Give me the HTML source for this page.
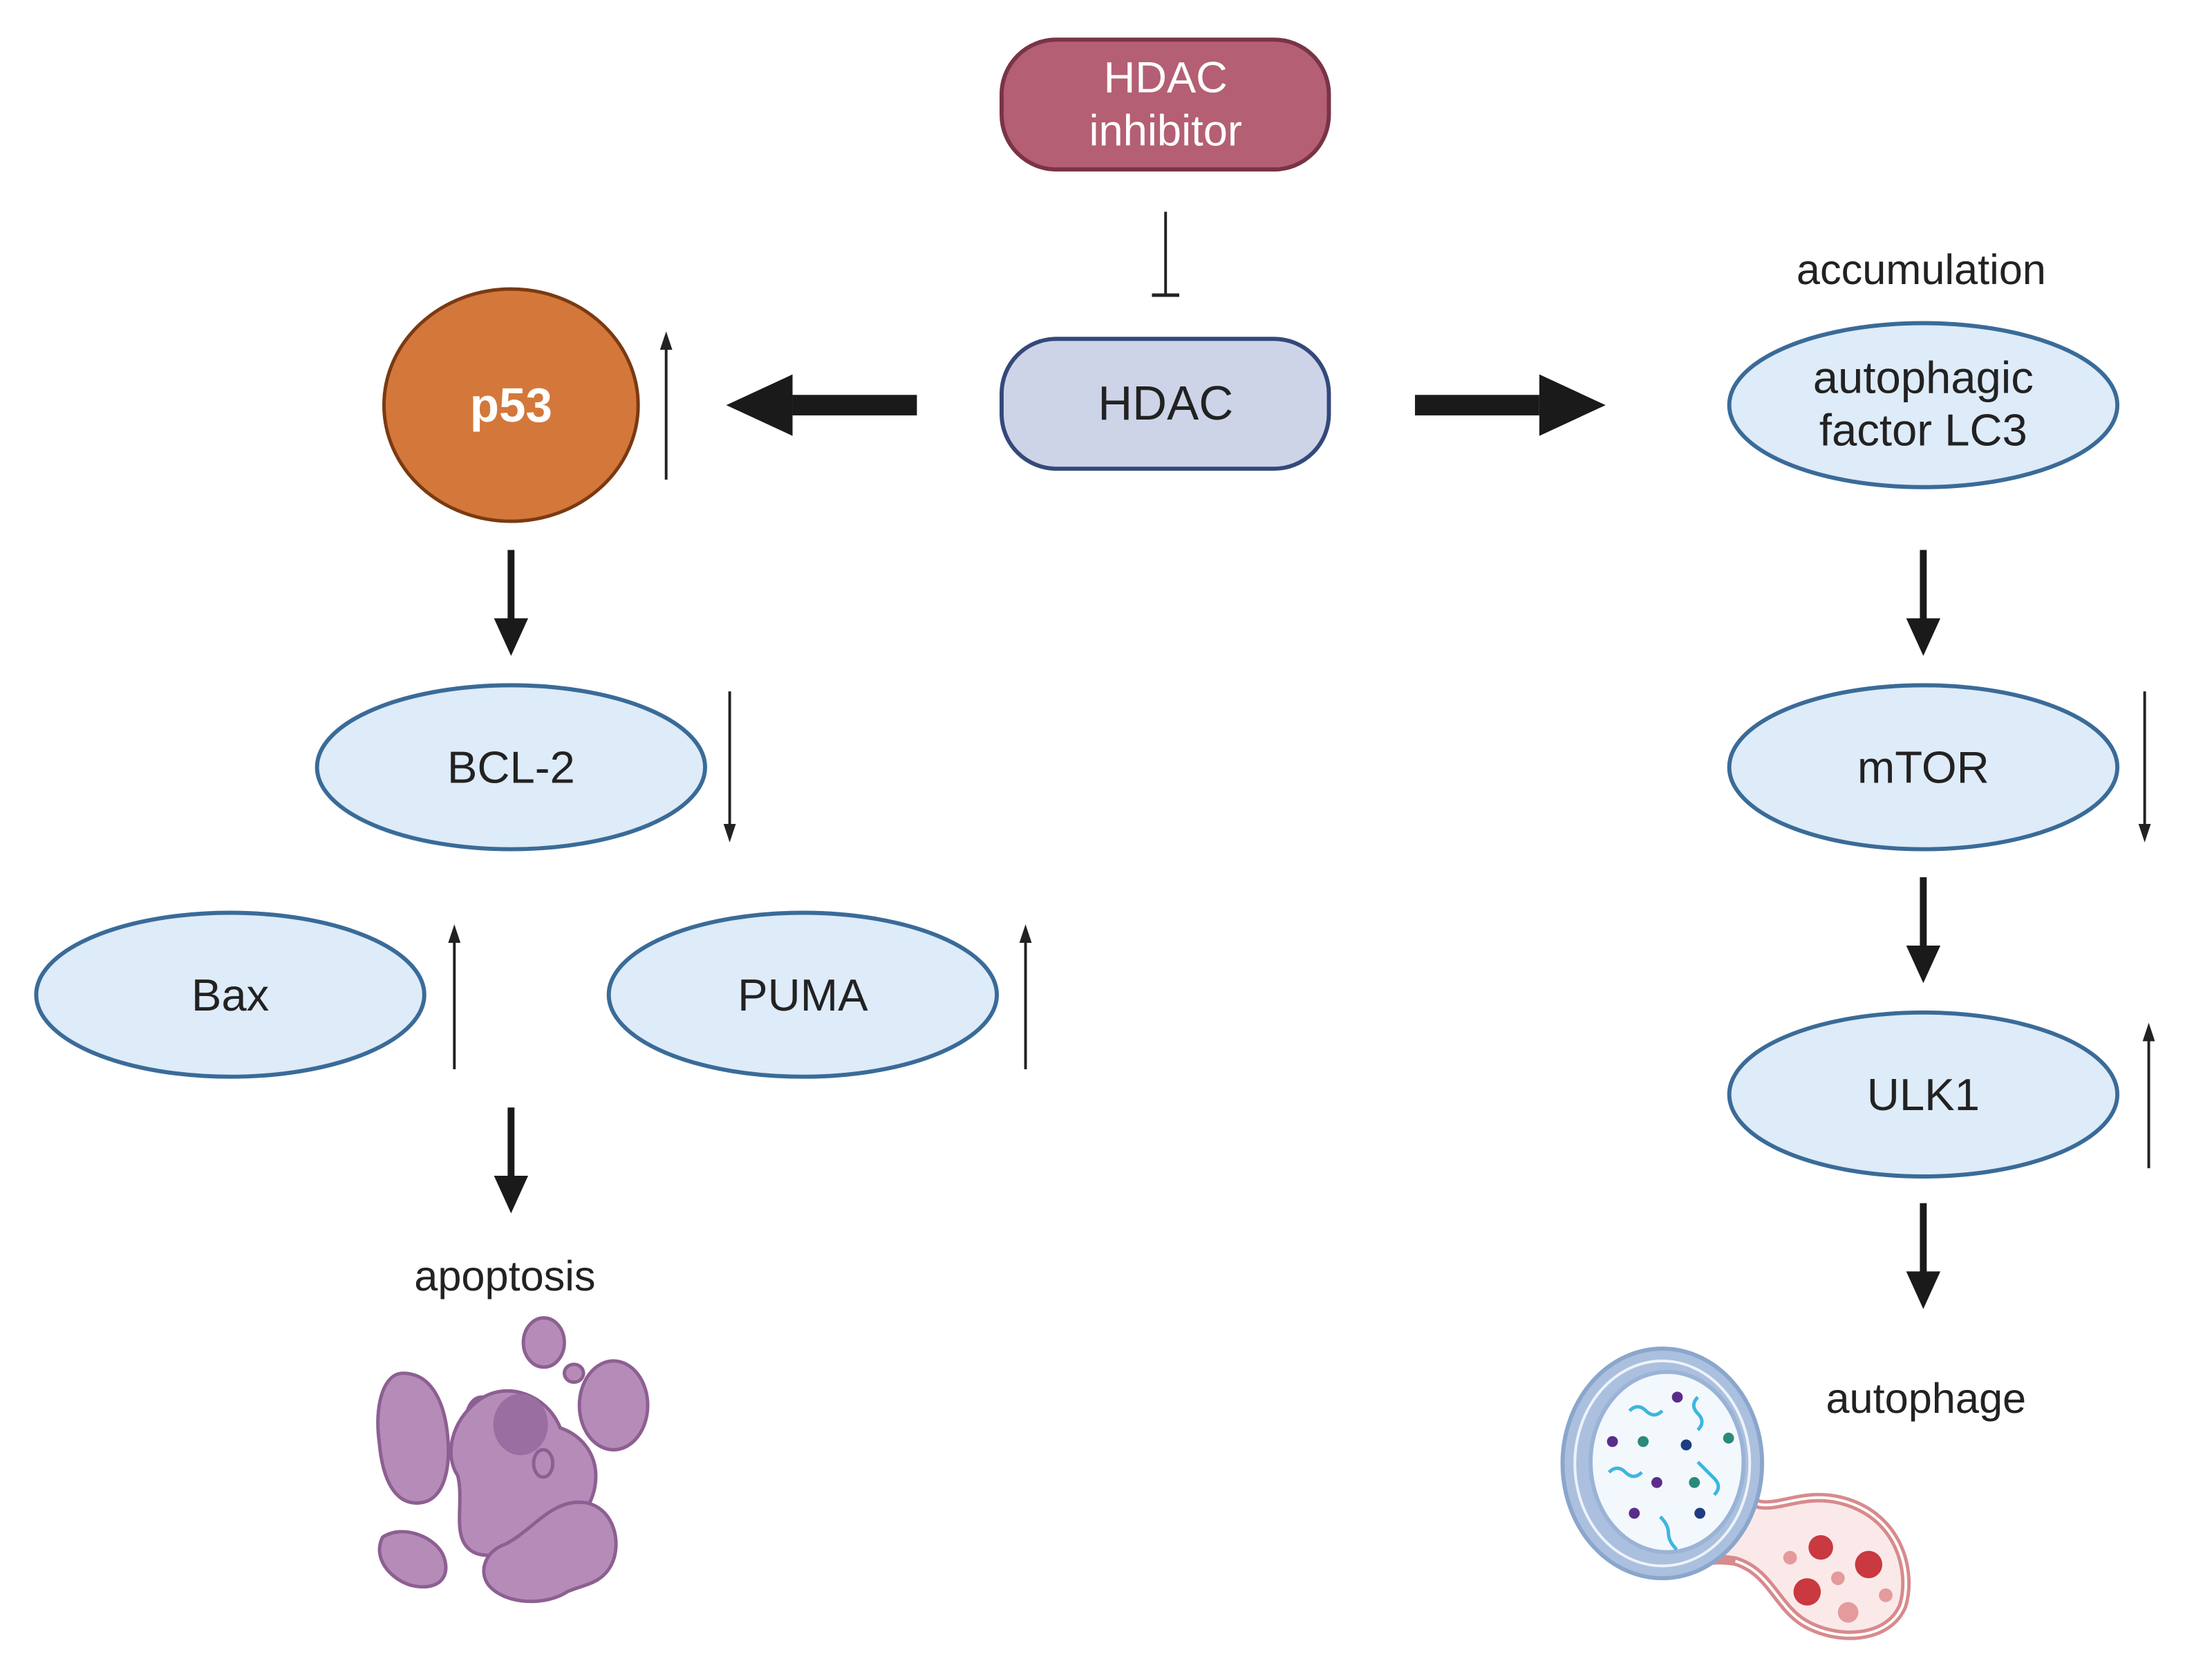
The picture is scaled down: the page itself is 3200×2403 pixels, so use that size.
<!DOCTYPE html>
<html><head><meta charset="utf-8"><style>
html,body{margin:0;padding:0;background:#fff;}
svg{display:block;}
text{font-family:"Liberation Sans",sans-serif;}
</style></head><body>
<svg width="3200" height="2403" viewBox="0 0 3200 2403" xmlns="http://www.w3.org/2000/svg">
<g transform="scale(0.9884)">
<!-- HDAC inhibitor -->
<rect x="1466" y="58" width="479" height="190" rx="80" fill="#b45f73" stroke="#7a3347" stroke-width="6"/>
<text x="1706" y="135" font-size="64" fill="#fff" text-anchor="middle">HDAC</text>
<text x="1706" y="213" font-size="64" fill="#fff" text-anchor="middle">inhibitor</text>
<line x1="1706" y1="310" x2="1706" y2="432" stroke="#222" stroke-width="4"/>
<line x1="1686" y1="432" x2="1726" y2="432" stroke="#222" stroke-width="5"/>
<rect x="1466" y="496" width="479" height="190" rx="80" fill="#ced4e8" stroke="#34497a" stroke-width="6"/>
<text x="1706" y="614" font-size="70" fill="#222" text-anchor="middle">HDAC</text>
<rect x="1160" y="578" width="182" height="30" fill="#1a1a1a"/>
<polygon points="1063,593 1160,548 1160,638" fill="#1a1a1a"/>
<rect x="2071" y="578" width="182" height="30" fill="#1a1a1a"/>
<polygon points="2350,593 2253,548 2253,638" fill="#1a1a1a"/>
<ellipse cx="748" cy="593" rx="186" ry="170" fill="#d4773a" stroke="#7a3a12" stroke-width="5"/>
<text x="748" y="617" font-size="70" fill="#fff" font-weight="bold" text-anchor="middle">p53</text>
<g stroke="#222" stroke-width="4" fill="#222">
<line x1="975" y1="702" x2="975" y2="505"/><polygon points="975,485 966,512 984,512" stroke="none"/>
<line x1="1068" y1="1012" x2="1068" y2="1212"/><polygon points="1068,1233 1059,1206 1077,1206" stroke="none"/>
<line x1="3139" y1="1012" x2="3139" y2="1212"/><polygon points="3139,1233 3130,1206 3148,1206" stroke="none"/>
<line x1="665" y1="1565" x2="665" y2="1373"/><polygon points="665,1353 656,1380 674,1380" stroke="none"/>
<line x1="1501" y1="1565" x2="1501" y2="1373"/><polygon points="1501,1353 1492,1380 1510,1380" stroke="none"/>
<line x1="3145" y1="1710" x2="3145" y2="1517"/><polygon points="3145,1497 3136,1524 3154,1524" stroke="none"/>
</g>
<g stroke="#1a1a1a" stroke-width="10" fill="#1a1a1a">
<line x1="748" y1="805" x2="748" y2="910"/><polygon points="748,960 723,905 773,905" stroke="none"/>
<line x1="2815" y1="805" x2="2815" y2="910"/><polygon points="2815,960 2790,905 2840,905" stroke="none"/>
<line x1="2815" y1="1284" x2="2815" y2="1389"/><polygon points="2815,1439 2790,1384 2840,1384" stroke="none"/>
<line x1="748" y1="1621" x2="748" y2="1726"/><polygon points="748,1776 723,1721 773,1721" stroke="none"/>
<line x1="2815" y1="1761" x2="2815" y2="1866"/><polygon points="2815,1916 2790,1861 2840,1861" stroke="none"/>
</g>
<text x="2812" y="416" font-size="62" fill="#222" text-anchor="middle">accumulation</text>
<g fill="#deebf8" stroke="#3a6b98" stroke-width="6">
<ellipse cx="2815" cy="593" rx="284" ry="120"/>
<ellipse cx="748" cy="1123" rx="284" ry="120"/>
<ellipse cx="2815" cy="1123" rx="284" ry="120"/>
<ellipse cx="337" cy="1456" rx="284" ry="120"/>
<ellipse cx="1175" cy="1456" rx="284" ry="120"/>
<ellipse cx="2815" cy="1602" rx="284" ry="120"/>
</g>
<g font-size="66" fill="#222" text-anchor="middle">
<text x="2815" y="575">autophagic</text>
<text x="2815" y="652">factor LC3</text>
<text x="748" y="1146">BCL-2</text>
<text x="2815" y="1146">mTOR</text>
<text x="337" y="1479">Bax</text>
<text x="1175" y="1479">PUMA</text>
<text x="2815" y="1625">ULK1</text>
<text x="739" y="1889" font-size="62">apoptosis</text>
<text x="2819" y="2068" font-size="62">autophage</text>
</g>
<g fill="#b58cb8" stroke="#8d5f92" stroke-width="5">
<ellipse cx="796" cy="1965" rx="30" ry="36"/>
<ellipse cx="705" cy="2075" rx="22" ry="30"/>
<ellipse cx="840" cy="2010" rx="14" ry="13"/>
<ellipse cx="898" cy="2057" rx="50" ry="65"/>
<path d="M590 2010 C560 2010 548 2060 555 2110 C560 2170 580 2200 610 2200 C650 2200 660 2150 655 2100 C650 2050 630 2010 590 2010 Z"/>
<path d="M700 2050 C740 2020 800 2040 820 2090 C850 2100 880 2130 870 2180 C860 2220 840 2230 800 2220 C780 2260 720 2290 690 2270 C660 2250 680 2200 670 2160 C650 2130 660 2080 700 2050 Z"/>
<path d="M560 2250 C590 2230 640 2250 650 2280 C660 2310 640 2330 600 2320 C570 2310 545 2280 560 2250 Z"/>
<path d="M740 2260 C780 2240 810 2190 860 2200 C900 2210 910 2260 895 2290 C880 2320 850 2320 830 2330 C800 2350 740 2350 715 2320 C700 2300 710 2270 740 2260 Z"/>
<ellipse cx="795" cy="2142" rx="14" ry="20"/>
</g>
<ellipse cx="762" cy="2085" rx="40" ry="45" fill="#9a6ea0"/>
<!-- autophagosome -->
<path d="M2545 2180 C2580 2230 2620 2180 2690 2195 C2780 2215 2800 2300 2785 2350 C2765 2400 2690 2405 2640 2375 C2600 2350 2590 2300 2540 2285 C2510 2280 2490 2285 2480 2290 Z" fill="#fbe9ea" stroke="#d88a8c" stroke-width="14"/>
<path d="M2545 2180 C2580 2230 2620 2180 2690 2195 C2780 2215 2800 2300 2785 2350 C2765 2400 2690 2405 2640 2375 C2600 2350 2590 2300 2540 2285" fill="none" stroke="#fff" stroke-width="4"/>
<ellipse cx="2433" cy="2142" rx="146" ry="168" fill="#aac0de" stroke="#8ba6cc" stroke-width="6"/>
<ellipse cx="2433" cy="2142" rx="128" ry="150" fill="none" stroke="#eef2fa" stroke-width="4"/>
<ellipse cx="2440" cy="2140" rx="112" ry="132" fill="#f3f8fd" stroke="#9ab3d6" stroke-width="6"/>
<g fill="#5b2c8a"><circle cx="2455" cy="2045" r="8"/><circle cx="2360" cy="2110" r="8"/><circle cx="2425" cy="2170" r="8"/><circle cx="2392" cy="2215" r="8"/></g>
<g fill="#2a8a7a"><circle cx="2405" cy="2110" r="8"/><circle cx="2530" cy="2105" r="8"/><circle cx="2480" cy="2170" r="8"/></g>
<g fill="#1d3d80"><circle cx="2468" cy="2115" r="8"/><circle cx="2488" cy="2215" r="8"/></g>
<g fill="none" stroke="#3cb6e0" stroke-width="5">
<path d="M2385 2065 q12 -12 24 0 q12 12 24 0"/><path d="M2485 2045 q-12 12 0 24 q12 12 0 24"/>
<path d="M2355 2155 q12 -12 24 0 q12 12 24 0"/><path d="M2485 2140 q12 12 24 24 q12 12 0 24"/>
<path d="M2430 2220 q12 12 12 24 q0 12 12 24"/>
</g>
<g fill="#c9393f"><circle cx="2665" cy="2265" r="18"/><circle cx="2735" cy="2290" r="20"/><circle cx="2645" cy="2330" r="20"/></g>
<g fill="#e59a9c"><circle cx="2620" cy="2280" r="10"/><circle cx="2690" cy="2310" r="10"/><circle cx="2760" cy="2335" r="10"/><circle cx="2705" cy="2360" r="15"/></g>
</g>
</svg>
</body></html>
